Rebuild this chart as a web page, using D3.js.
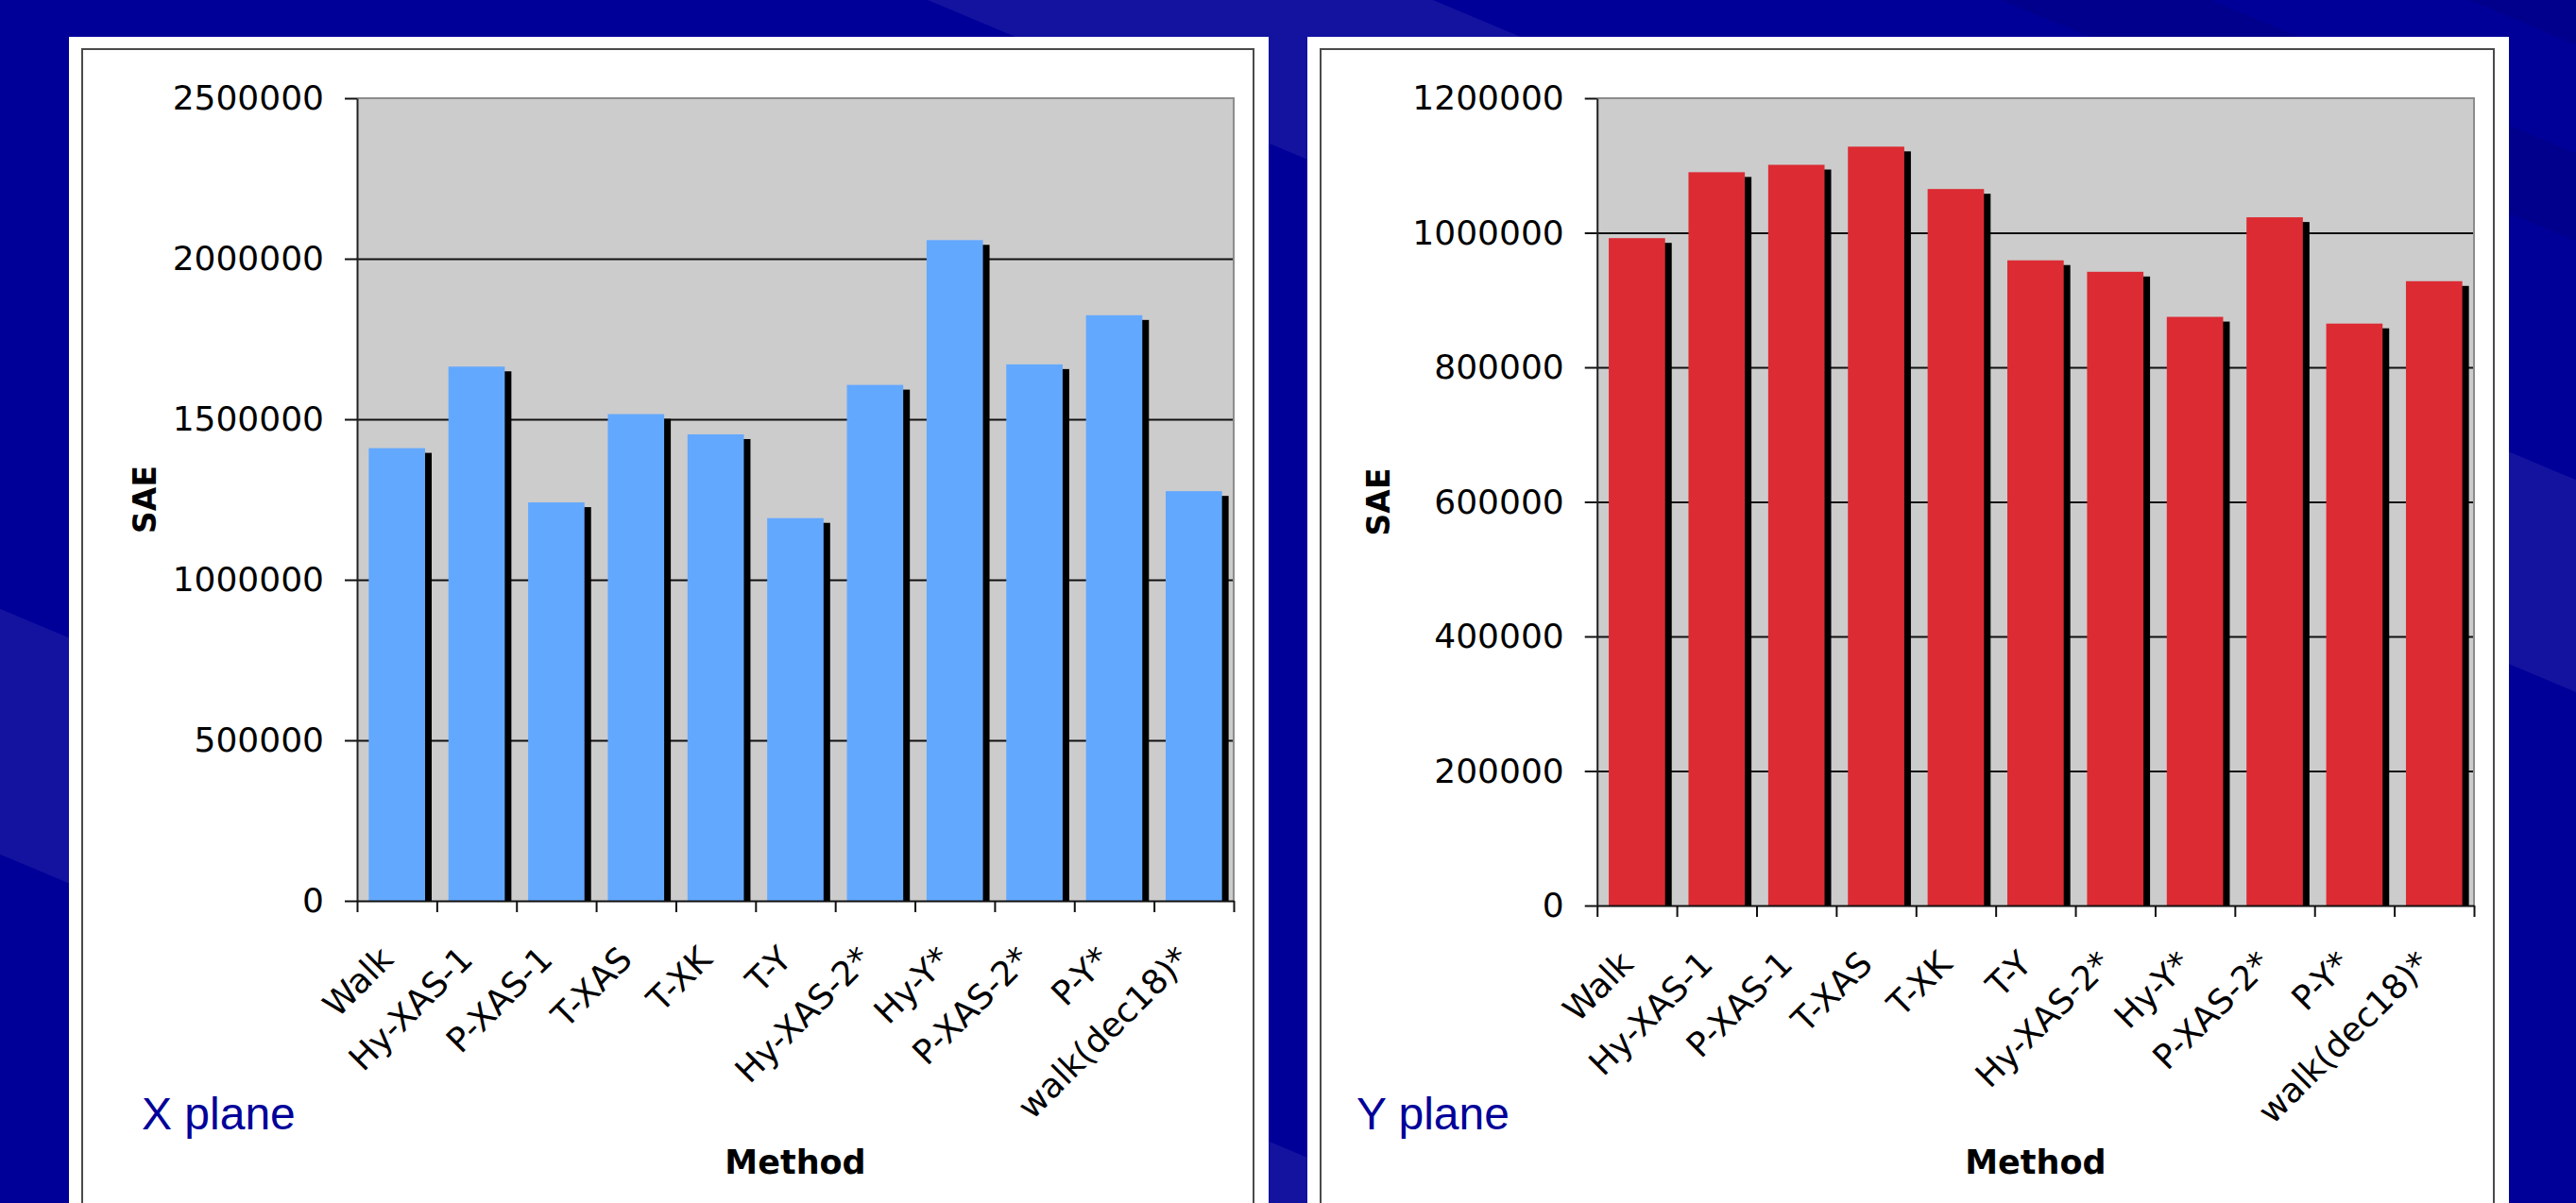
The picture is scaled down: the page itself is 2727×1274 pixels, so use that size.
<!DOCTYPE html>
<html>
<head>
<meta charset="utf-8">
<script src="https://cdn.jsdelivr.net/npm/d3@7"></script>
<style>
  html, body { margin: 0; padding: 0; background: #000099; overflow: hidden; }
  svg { display: block; }
</style>
</head>
<body>
<script>
// Sum of absolute errors per method, for the X and Y planes
const categories = ["Walk", "Hy-XAS-1", "P-XAS-1", "T-XAS", "T-XK", "T-Y",
                    "Hy-XAS-2*", "Hy-Y*", "P-XAS-2*", "P-Y*", "walk(dec18)*"];
const xPlaneSAE = [1410000, 1664000, 1241000, 1516000, 1453000, 1192000,
                   1607000, 2058000, 1671000, 1824000, 1276000];
const yPlaneSAE = [992000, 1090000, 1101000, 1128000, 1065000, 959000,
                   942000, 875000, 1023000, 865000, 928000];
const xPlaneTicks = [0, 500000, 1000000, 1500000, 2000000, 2500000];
const yPlaneTicks = [0, 200000, 400000, 600000, 800000, 1000000, 1200000];
const panelLabels = ["X plane", "Y plane"];
const valueAxisTitle = "SAE";
const categoryAxisTitle = "Method";

const W = 2727, H = 1274;
const svg = d3.select("body").append("svg").attr("width", W).attr("height", H);

// Slide background with soft diagonal bands
svg.append("rect").attr("width", W).attr("height", H).attr("fill", "#000099");
const slope = 0.42;
function band(xa, xb, fill) {
  const ya = H / slope;
  svg.append("polygon")
    .attr("points", [[xa, 0], [xb, 0], [xb + ya, H], [xa + ya, H]].map(p => p.join(",")).join(" "))
    .attr("fill", fill);
}
band(982, 1517, "#1313a0");
band(-2154, -1535, "#1313a0");
band(2119, 2340, "#00008c");
band(2614, 2900, "#00008c");

const fmt = d3.format("d");

function drawPanel(opt) {
  const g = svg.append("g");
  // white panel and chart-area border
  g.append("rect").attr("x", opt.panel[0]).attr("y", 39)
    .attr("width", opt.panel[1] - opt.panel[0]).attr("height", H)
    .attr("fill", "#ffffff");
  g.append("rect").attr("x", opt.frame[0]).attr("y", 52)
    .attr("width", opt.frame[1] - opt.frame[0]).attr("height", H)
    .attr("fill", "none").attr("stroke", "#4a4a4a").attr("stroke-width", 2);

  const [x0, x1] = opt.plotX;
  const [yTop, yBottom] = opt.plotY;

  const x = d3.scaleBand().domain(categories).range([x0, x1])
    .paddingInner(0.293).paddingOuter(0.1465);
  const y = d3.scaleLinear().domain([0, d3.max(opt.ticks)]).range([yBottom, yTop]);
  const slots = d3.scaleLinear().domain([0, categories.length]).range([x0, x1]);

  // plot area
  g.append("rect").attr("x", x0).attr("y", yTop)
    .attr("width", x1 - x0).attr("height", yBottom - yTop).attr("fill", "#cccccc");

  // gridlines
  const grid = g.append("g").attr("transform", `translate(${x0},0)`)
    .call(d3.axisLeft(y).tickValues(opt.ticks.slice(1, -1)).tickSize(-(x1 - x0)).tickFormat(""));
  grid.select(".domain").remove();
  grid.selectAll("line").attr("stroke", "#111").attr("stroke-width", 2);

  const data = categories.map((c, i) => ({ c, v: opt.values[i] }));

  // drop shadows
  g.append("g").selectAll("rect").data(data).join("rect")
    .attr("x", d => x(d.c) + 7)
    .attr("y", d => y(d.v) + 5)
    .attr("width", x.bandwidth())
    .attr("height", d => y(0) - y(d.v) - 5)
    .attr("fill", "#000");

  // bars
  g.append("g").selectAll("rect").data(data).join("rect")
    .attr("x", d => x(d.c))
    .attr("y", d => y(d.v))
    .attr("width", x.bandwidth())
    .attr("height", d => y(0) - y(d.v))
    .attr("fill", opt.color);

  // plot-area border on top and right
  g.append("path").attr("d", `M${x0},${yTop}H${x1}V${yBottom}`)
    .attr("fill", "none").attr("stroke", "#8c8c8c").attr("stroke-width", 2);

  // value axis
  const ya = g.append("g").attr("transform", `translate(${x0},0)`)
    .call(d3.axisLeft(y).tickValues(opt.ticks).tickSize(13).tickSizeOuter(0)
      .tickPadding(22).tickFormat(fmt));
  ya.select(".domain").attr("stroke", "#222").attr("stroke-width", 2);
  ya.selectAll("line").attr("stroke", "#111").attr("stroke-width", 2);
  ya.selectAll("text").attr("font-family", "DejaVu Sans").attr("font-size", 36)
    .attr("fill", "#000");

  // category axis with boundary ticks
  const xa = g.append("g").attr("transform", `translate(0,${yBottom})`)
    .call(d3.axisBottom(slots).tickValues(d3.range(categories.length + 1))
      .tickSize(12).tickSizeOuter(0).tickFormat(""));
  xa.select(".domain").attr("stroke", "#111").attr("stroke-width", 2);
  xa.selectAll("line").attr("stroke", "#111").attr("stroke-width", 2);

  g.append("g").selectAll("text").data(categories).join("text")
    .attr("transform", c => `translate(${x(c) + x.bandwidth() / 2 - 2},${yBottom + 64}) rotate(-45)`)
    .attr("text-anchor", "end")
    .attr("font-family", "DejaVu Sans").attr("font-size", 36).attr("fill", "#000")
    .text(c => c);

  // axis titles
  g.append("text")
    .attr("transform", `translate(${opt.titleX},${(yTop + yBottom) / 2}) rotate(-90)`)
    .attr("text-anchor", "middle").attr("dy", "0.36em")
    .attr("font-family", "DejaVu Sans").attr("font-weight", "bold").attr("font-size", 33)
    .attr("fill", "#000").text(valueAxisTitle);
  g.append("text")
    .attr("x", (x0 + x1) / 2).attr("y", 1243)
    .attr("text-anchor", "middle")
    .attr("font-family", "DejaVu Sans").attr("font-weight", "bold").attr("font-size", 35)
    .attr("fill", "#000").text(categoryAxisTitle);

  // panel caption
  g.append("text").attr("x", opt.captionX).attr("y", 1196)
    .attr("font-family", "Liberation Sans, Arial, sans-serif").attr("font-size", 48)
    .attr("fill", "#000099").text(opt.caption);
}

drawPanel({
  panel: [73, 1343], frame: [87, 1327],
  plotX: [378, 1306], plotY: [104, 954],
  values: xPlaneSAE, ticks: xPlaneTicks, color: "#63a8ff",
  titleX: 153, captionX: 150, caption: panelLabels[0]
});
drawPanel({
  panel: [1384, 2656], frame: [1398, 2640],
  plotX: [1690.7, 2619], plotY: [104, 959],
  values: yPlaneSAE, ticks: yPlaneTicks, color: "#dc2b33",
  titleX: 1459, captionX: 1436, caption: panelLabels[1]
});
</script>
</body>
</html>
